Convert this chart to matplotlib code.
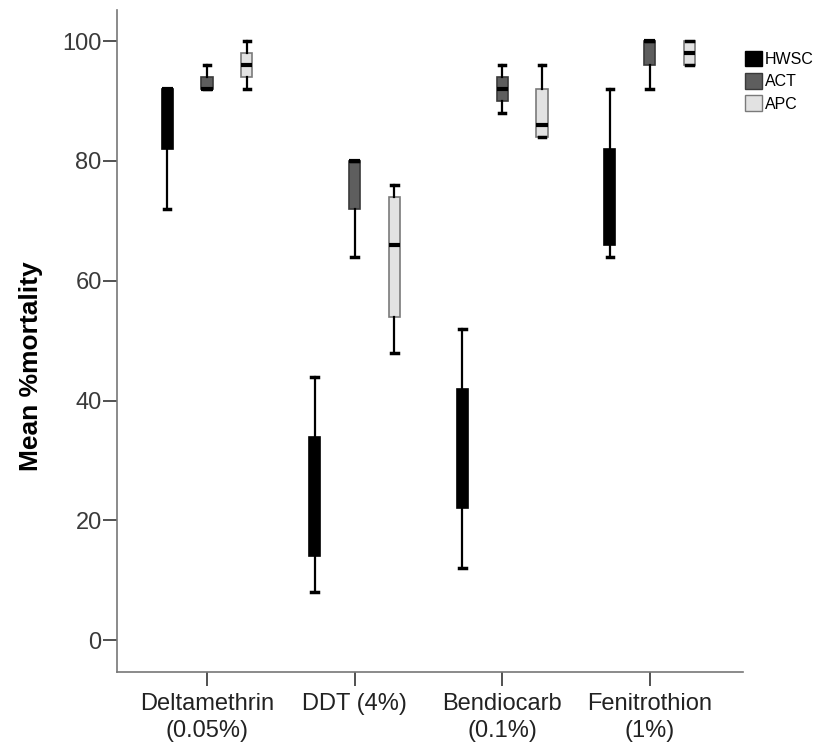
import matplotlib
matplotlib.use("Agg")
import matplotlib.pyplot as plt
from matplotlib.patches import Patch
import numpy as np

plt.rcParams['font.family'] = ['Liberation Sans', 'DejaVu Sans']

categories = ["Deltamethrin\n(0.05%)", "DDT (4%)", "Bendiocarb\n(0.1%)", "Fenitrothion\n(1%)"]
series = ["HWSC", "ACT", "APC"]

# per series: [whisker low, Q1, median, Q3, whisker high] for each insecticide
hwsc = [[72, 82, 92, 92, 92], [8, 14, 24, 34, 44], [12, 22, 30, 42, 52], [64, 66, 74, 82, 92]]
act = [[92, 92, 92, 94, 96], [64, 72, 80, 80, 80], [88, 90, 92, 94, 96], [92, 96, 100, 100, 100]]
apc = [[92, 94, 96, 98, 100], [48, 54, 66, 74, 76], [84, 84, 86, 92, 96], [96, 96, 98, 100, 100]]

fills = ["#000000", "#5e5e5e", "#e2e2e2"]
edges = ["#000000", "#3a3a3a", "#7a7a7a"]
offsets = [-0.27, 0.0, 0.27]

fig = plt.figure(figsize=(8.17, 7.44), dpi=100)
ax = fig.add_axes([0.1432, 0.0968, 0.7658, 0.8898])

x = np.arange(len(categories))
for data, fc, ec, off in zip([hwsc, act, apc], fills, edges, offsets):
    stats = [dict(whislo=d[0], q1=d[1], med=d[2], q3=d[3], whishi=d[4], fliers=[])
             for d in data]
    ax.bxp(stats, positions=x + off, widths=0.075, capwidths=0.045,
           patch_artist=True, showfliers=False,
           boxprops=dict(facecolor=fc, edgecolor=ec, linewidth=1.2),
           medianprops=dict(color="black", linewidth=3, solid_capstyle="butt"),
           whiskerprops=dict(color="black", linewidth=1.6),
           capprops=dict(color="black", linewidth=2.5))

ax.set_xlim(-0.61, 3.63)
ax.set_ylim(-5.3, 105.2)
ax.set_yticks([0, 20, 40, 60, 80, 100])
ax.set_xticks(x)
ax.set_xticklabels(categories, fontsize=17, color="#222222", linespacing=1.3)
ax.tick_params(axis="y", labelsize=17, labelcolor="#3a3a3a", length=10, width=1.2,
               color="#333333", pad=1, direction="out")
ax.tick_params(axis="x", length=10, width=1.2, color="#333333", pad=5, direction="out")
for side in ["left", "bottom"]:
    ax.spines[side].set_color("#777777")
    ax.spines[side].set_linewidth(1.2)
ax.spines["top"].set_visible(False)
ax.spines["right"].set_visible(False)
ax.set_ylabel("Mean %mortality", fontsize=19, fontweight="bold")
ax.yaxis.set_label_coords(-0.118, 0.462)

handles = [Patch(facecolor=fc, edgecolor=ec, label=s) for s, fc, ec in zip(series, fills, edges)]
fig.legend(handles=handles, loc="upper left", bbox_to_anchor=(0.912, 0.932),
           frameon=False, fontsize=11.5, handlelength=1.05, handleheight=1.15,
           handletextpad=0.2, labelspacing=0.38, borderpad=0, borderaxespad=0)

fig.savefig("out.png", dpi=100)
